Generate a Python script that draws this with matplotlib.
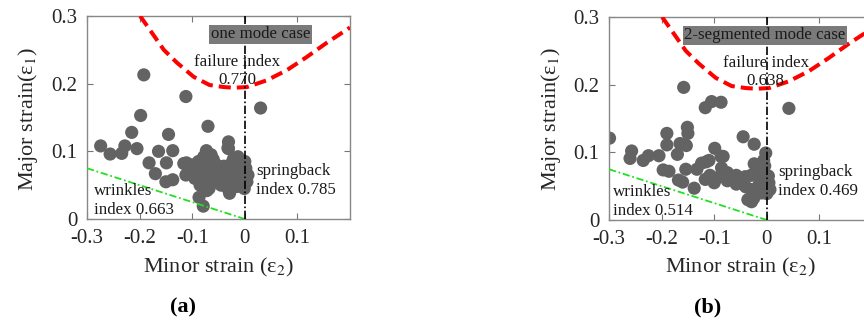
import matplotlib
matplotlib.use("Agg")
import matplotlib.pyplot as plt
from matplotlib import font_manager

names = {f.name for f in font_manager.fontManager.ttflist}
serif = [n for n in ['Liberation Serif', 'Times New Roman', 'Nimbus Roman', 'STIXGeneral'] if n in names]
plt.rcParams['font.family'] = serif + ['DejaVu Serif']
plt.rcParams['mathtext.fontset'] = 'stix'

# ---------------- data ----------------
# forming limit (failure) curve points
flc_x = [-0.199, -0.180, -0.154, -0.129, -0.097, -0.067, -0.040, -0.020, 0.004, 0.042, 0.080, 0.117, 0.155, 0.200]
flc_y = [0.300, 0.279, 0.250, 0.231, 0.210, 0.198, 0.195, 0.194, 0.195, 0.205, 0.220, 0.239, 0.260, 0.283]

# wrinkling limit line
wr_x = [-0.3, 0.0]
wr_y = [0.075, 0.0]

# panel (a): one mode case
a_x = [-0.192, -0.112, 0.030, -0.198, -0.215, -0.070, -0.145, -0.031, -0.031,
       -0.274, -0.256, -0.234, -0.228, -0.205, -0.164, -0.137, -0.182, -0.149,
       -0.116, -0.170, -0.150, -0.137, -0.112, -0.072, -0.087, -0.079, -0.029,
       -0.105, -0.100, -0.095, -0.090, -0.088, -0.085, -0.082, -0.080, -0.078,
       -0.075, -0.073, -0.072, -0.070, -0.068, -0.066, -0.064, -0.062, -0.060,
       -0.058, -0.056, -0.054, -0.050, -0.048, -0.045, -0.042, -0.040, -0.037,
       -0.035, -0.032, -0.030, -0.028, -0.026, -0.024, -0.022, -0.020, -0.018,
       -0.015, -0.013, -0.012, -0.010, -0.008, -0.006, -0.004, -0.002, 0.000,
       0.002, 0.004, 0.006, -0.001, -0.111, -0.032]
a_y = [0.213, 0.181, 0.164, 0.153, 0.128, 0.137, 0.125, 0.114, 0.104,
       0.108, 0.096, 0.097, 0.108, 0.104, 0.100, 0.101, 0.083, 0.083,
       0.082, 0.067, 0.055, 0.058, 0.065, 0.042, 0.032, 0.019, 0.038,
       0.068, 0.080, 0.060, 0.072, 0.085, 0.050, 0.065, 0.078, 0.092,
       0.058, 0.101, 0.070, 0.085, 0.045, 0.062, 0.095, 0.075, 0.088,
       0.055, 0.068, 0.080, 0.060, 0.072, 0.050, 0.065, 0.078, 0.055,
       0.070, 0.045, 0.060, 0.080, 0.052, 0.068, 0.088, 0.058, 0.075,
       0.048, 0.092, 0.065, 0.055, 0.080, 0.070, 0.050, 0.060, 0.085,
       0.075, 0.055, 0.065, 0.045, 0.083, 0.105]

# panel (b): 2-segmented mode case
b_x = [-0.299, -0.158, -0.117, -0.105, -0.087, 0.042, -0.151, -0.150, -0.190,
       -0.045, -0.024, -0.002, -0.257, -0.260, -0.235, -0.225, -0.205, -0.190,
       -0.165, -0.153, -0.170, -0.197, -0.186, -0.168, -0.160, -0.154, -0.138,
       -0.099, -0.087, -0.124, -0.110, -0.133, -0.117, -0.100, -0.086, -0.075,
       -0.058, -0.041, -0.030, -0.024, -0.018, -0.029, -0.025, -0.002, 0.000,
       -0.030, -0.040, -0.058, -0.075, -0.083, -0.115, -0.012, -0.008, -0.004,
       0.004, 0.006, -0.006, -0.065, -0.050, -0.036, -0.108, -0.092, -0.015,
       0.003, -0.010]
b_y = [0.121, 0.196, 0.166, 0.175, 0.174, 0.165, 0.137, 0.128, 0.128,
       0.123, 0.112, 0.099, 0.102, 0.091, 0.088, 0.095, 0.095, 0.111,
       0.113, 0.110, 0.097, 0.074, 0.072, 0.059, 0.056, 0.075, 0.047,
       0.106, 0.094, 0.084, 0.088, 0.075, 0.060, 0.055, 0.077, 0.070,
       0.066, 0.064, 0.066, 0.083, 0.074, 0.027, 0.032, 0.049, 0.039,
       0.045, 0.049, 0.053, 0.058, 0.094, 0.086, 0.060, 0.070, 0.080,
       0.055, 0.045, 0.088, 0.060, 0.058, 0.030, 0.066, 0.063, 0.052,
       0.065, 0.040]

case_labels = ["one mode case", "2-segmented mode case"]
failure_idx = ["0.770", "0.638"]
springback_idx = ["0.785", "0.469"]
wrinkles_idx = ["0.663", "0.514"]
panel_tags = ["(a)", "(b)"]

x_ticks = [-0.3, -0.2, -0.1, 0, 0.1]
x_ticklabels = ["-0.3", "-0.2", "-0.1", "0", "0.1"]
y_ticks = [0, 0.1, 0.2, 0.3]
y_ticklabels = ["0", "0.1", "0.2", "0.3"]

# ---------------- figure ----------------
fig = plt.figure(figsize=(8.64, 3.21), dpi=100)
W, H = 864, 321
rects = [(87, 16, 263, 203), (609, 17, 263, 203)]
box_centers = [0.030, -0.0036]
fail_x = [-0.014, -0.002]
spring_x = [0.022, 0.021]
wr_tx = [-0.286, -0.293]
tag_px = [183, 708]
ylab_px = [(28, 119), (551, 119)]
xlab_px = [(218, 267), (740, 267)]
txtc = '#1a1a1a'
afs = 12.2

for i, (xs, ys) in enumerate([(a_x, a_y), (b_x, b_y)]):
    l, t, w, h = rects[i]
    ax = fig.add_axes([l / W, 1 - (t + h) / H, w / W, h / H])
    ax.set_xlim(-0.3, 0.2)
    ax.set_ylim(0, 0.3)

    ax.plot(flc_x, flc_y, color='#ff0000', lw=2.9, dashes=(3.0, 1.5), zorder=3)
    ax.plot(wr_x, wr_y, color='#22e022', lw=1.3, dashes=(4, 1.5, 1, 1.5), zorder=3)
    ax.axvline(0, color='black', lw=1.2, dashes=(5, 1.5, 1, 1.5), zorder=4)
    ax.scatter(xs, ys, s=90, color='#636363', edgecolors='none', zorder=2)

    ax.text(box_centers[i], 0.273, case_labels[i], ha='center', va='center',
            fontsize=afs, color=txtc, zorder=5,
            bbox=dict(boxstyle='square,pad=0.1', facecolor='#7a7a7a', edgecolor='none'))
    ax.text(fail_x[i], 0.232, "failure index", ha='center', va='center',
            fontsize=afs, color=txtc, zorder=5)
    ax.text(fail_x[i], 0.205, failure_idx[i], ha='center', va='center',
            fontsize=afs, color=txtc, zorder=3.5)
    ax.text(spring_x[i], 0.071, "springback", ha='left', va='center',
            fontsize=afs, color=txtc, zorder=5)
    ax.text(spring_x[i], 0.043, "index " + springback_idx[i], ha='left', va='center',
            fontsize=afs, color=txtc, zorder=5)
    ax.text(wr_tx[i], 0.042, "wrinkles", ha='left', va='center',
            fontsize=afs, color=txtc, zorder=5)
    ax.text(wr_tx[i], 0.013, "index " + wrinkles_idx[i], ha='left', va='center',
            fontsize=afs, color=txtc, zorder=5)

    ax.set_xticks(x_ticks)
    ax.set_xticklabels(x_ticklabels)
    ax.set_yticks(y_ticks)
    ax.set_yticklabels(y_ticklabels)
    ax.tick_params(direction='in', top=True, right=True, length=4, width=0.8,
                   color='#777777', labelsize=15, labelcolor='#262626', pad=7)
    for sp in ax.spines.values():
        sp.set_color('#888888')
        sp.set_linewidth(1.0)

    fig.text(xlab_px[i][0] / W, 1 - xlab_px[i][1] / H, "Minor strain (ε$_2$)",
             ha='center', va='center', fontsize=16, color='#262626')
    fig.text(ylab_px[i][0] / W, 1 - ylab_px[i][1] / H, "Major strain(ε$_1$)",
             ha='center', va='center', rotation=90, fontsize=16, color='#262626')

    fig.text(tag_px[i] / W, 1 - 307 / H, panel_tags[i], ha='center', va='center',
             fontsize=16, fontweight='bold', color='black')

fig.savefig("out.png", dpi=100)
